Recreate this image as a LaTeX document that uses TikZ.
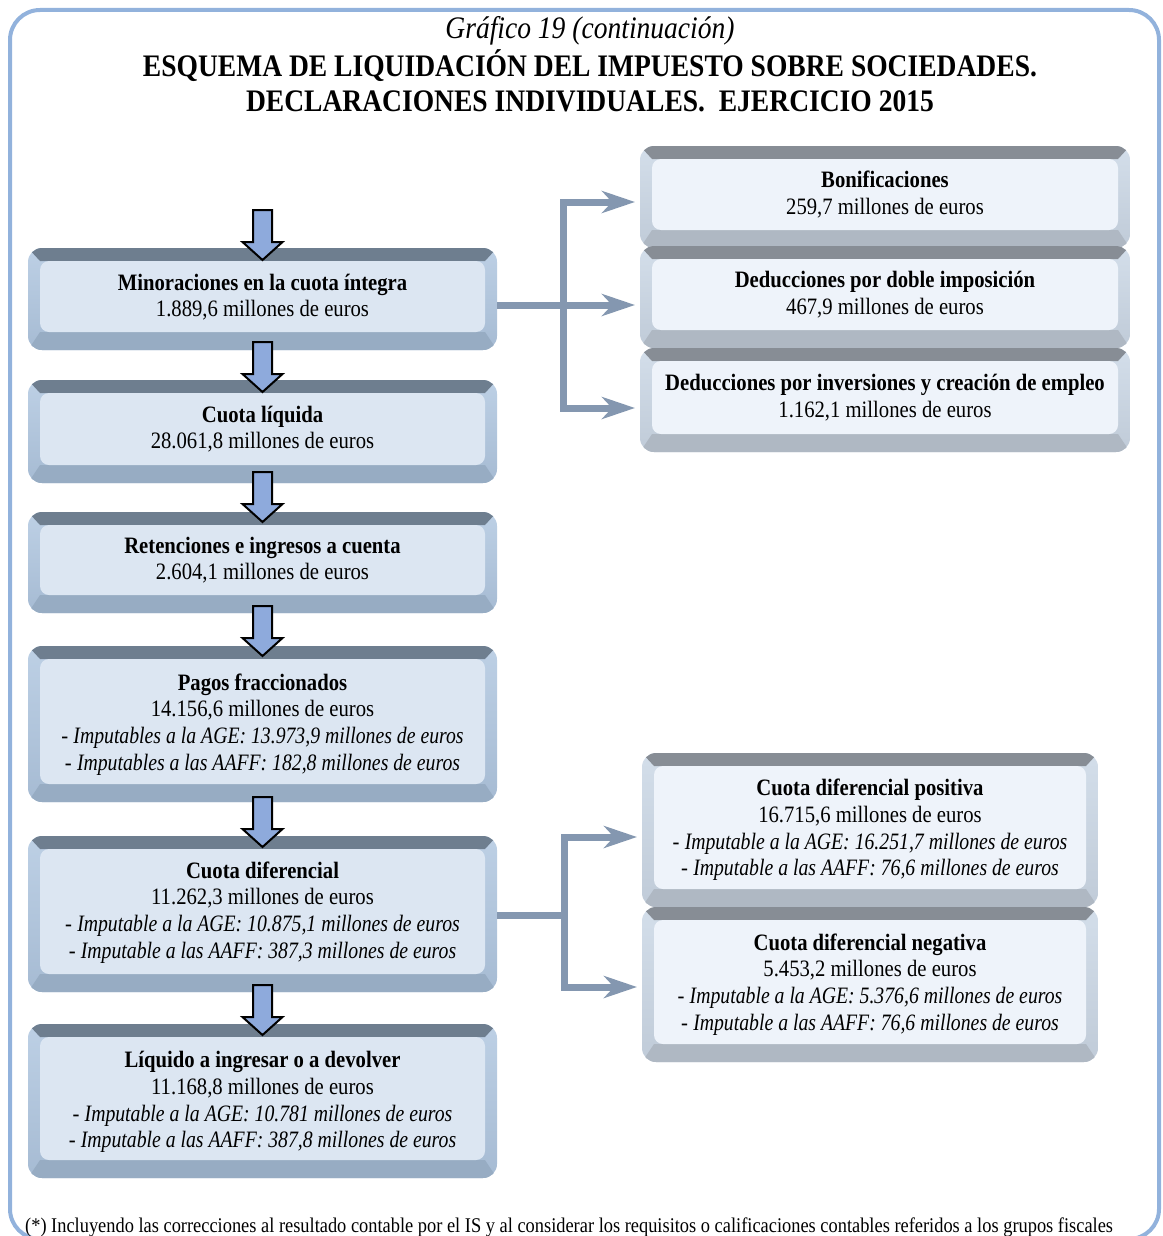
\documentclass[tikz,border=0pt]{standalone}
\usepackage{fontspec}
\setmainfont{Liberation Serif}[FakeStretch=0.88]
\newfontfamily\boxitfam{Liberation Serif}[FakeStretch=0.84]
\newcommand\imp[1]{{\boxitfam\itshape #1}}
\usetikzlibrary{arrows.meta,fit}
\definecolor{framec}{HTML}{92B2DC}
\definecolor{connc}{HTML}{8497B0}
\definecolor{arrowc}{HTML}{8EAADC}
\definecolor{Ltop}{HTML}{6E7E8F}
\definecolor{Lside}{HTML}{A6BBD3}
\definecolor{Lsidehi}{HTML}{BDD0E5}
\definecolor{Lbot}{HTML}{97ACC3}
\definecolor{Lface}{HTML}{DCE6F2}
\definecolor{Rtop}{HTML}{878D95}
\definecolor{Rside}{HTML}{C0CBD8}
\definecolor{Rsidehi}{HTML}{D3DEEA}
\definecolor{Rbot}{HTML}{AFB8C3}
\definecolor{Rface}{HTML}{EEF3FA}
\tikzset{
  boxtxt/.style={align=center, font=\fontsize{23.5}{26.7}\selectfont, inner sep=0pt},
  conn/.style={draw=connc, line width=7pt},
  tipc/.style={-{Stealth[length=33pt,width=22pt,inset=10pt]}, shorten >=5pt},
  barrow/.style={draw=black, line width=2pt, fill=arrowc, line join=miter},
  boxfit/.style={inner sep=0pt, outer sep=0pt},
  titletxt/.style={font=\fontsize{31.3}{35}\selectfont, inner sep=0pt, anchor=base},
}
% name, x0, y0, x1, y1, palette, text y offset, text
\newcommand\bevbox[8]{%
  \begin{scope}
    \clip[rounded corners=14pt] (#2,#3) rectangle (#4,#5);
    \shade[top color=#6sidehi, bottom color=#6side] (#2,#3) rectangle (#4,#5);
    \fill[#6top] (#2,#3) -- (#4,#3) -- ({#4-12},{#3+13}) -- ({#2+12},{#3+13}) -- cycle;
    \fill[#6bot] (#2,#5) -- (#4,#5) -- ({#4-12},{#5-18}) -- ({#2+12},{#5-18}) -- cycle;
  \end{scope}
  \fill[#6face, rounded corners=9pt] ({#2+12},{#3+13}) rectangle ({#4-12},{#5-18});
  \node[boxfit, fit={(#2,#3) (#4,#5)}] (#1) {};
  \node[boxtxt] (#1t) at ({(#2+#4)/2},{(#3+#5-5)/2+#7}) {#8};
}
\newcommand\blockarr[1]{%
  \draw[barrow] (#1) -- ++(-20,-18) -- ++(10.5,0) -- ++(0,-32) -- ++(19,0) -- ++(0,32) -- ++(10.5,0) -- cycle;
}
\begin{document}
\begin{tikzpicture}[x=1pt,y=-1pt]
\useasboundingbox (0,0) rectangle (1162,1236);
\clip (0,0) rectangle (1162,1236);
\draw[framec, line width=4pt, rounded corners=30pt] (10,10) rectangle (1159,1239);

\node[titletxt] (tit1) at (590,38.5) {\textit{Gráfico 19 (continuación)}};
\node[titletxt] (tit2) at (590,76.5) {\textbf{ESQUEMA DE LIQUIDACIÓN DEL IMPUESTO SOBRE SOCIEDADES.}};
\node[titletxt] (tit3) at (590,111.5) {\textbf{DECLARACIONES INDIVIDUALES.\ \ EJERCICIO 2015}};

% right boxes
\bevbox{R1}{640}{146}{1130}{248}{R}{0}{\textbf{Bonificaciones}\\259,7 millones de euros}
\bevbox{R2}{640}{246}{1130}{348}{R}{0}{\textbf{Deducciones por doble imposición}\\467,9 millones de euros}
\bevbox{R3}{640}{348}{1130}{452}{R}{0}{\textbf{Deducciones por inversiones y creación de empleo}\\1.162,1 millones de euros}
\bevbox{R4}{642}{753}{1098}{907}{R}{2.5}{\textbf{Cuota diferencial positiva}\\16.715,6 millones de euros\\- \imp{Imputable a la AGE: 16.251,7 millones de euros}\\- \imp{Imputable a las AAFF: 76,6 millones de euros}}
\bevbox{R5}{642}{907}{1098}{1062}{R}{2.5}{\textbf{Cuota diferencial negativa}\\5.453,2 millones de euros\\- \imp{Imputable a la AGE: 5.376,6 millones de euros}\\- \imp{Imputable a las AAFF: 76,6 millones de euros}}

% left boxes
\bevbox{B1}{28}{248}{497}{350}{L}{0.5}{\textbf{Minoraciones en la cuota íntegra}\\1.889,6 millones de euros}
\bevbox{B2}{28}{380}{497}{483}{L}{0}{\textbf{Cuota líquida}\\28.061,8 millones de euros}
\bevbox{B3}{28}{512}{497}{613}{L}{0}{\textbf{Retenciones e ingresos a cuenta}\\2.604,1 millones de euros}
\bevbox{B4}{28}{646}{497}{802}{L}{3}{\textbf{Pagos fraccionados}\\14.156,6 millones de euros\\- \imp{Imputables a la AGE: 13.973,9 millones de euros}\\- \imp{Imputables a las AAFF: 182,8 millones de euros}}
\bevbox{B5}{28}{836}{497}{992}{L}{1}{\textbf{Cuota diferencial}\\11.262,3 millones de euros\\- \imp{Imputable a la AGE: 10.875,1 millones de euros}\\- \imp{Imputable a las AAFF: 387,3 millones de euros}}
\bevbox{B6}{28}{1024}{497}{1178}{L}{3.5}{\textbf{Líquido a ingresar o a devolver}\\11.168,8 millones de euros\\- \imp{Imputable a la AGE: 10.781 millones de euros}\\- \imp{Imputable a las AAFF: 387,8 millones de euros}}

% block arrows
\coordinate (a1) at ([yshift=-12pt]B1.north);
\coordinate (a2) at ([yshift=-12pt]B2.north);
\coordinate (a3) at ([yshift=-10pt]B3.north);
\coordinate (a4) at ([yshift=-10pt]B4.north);
\coordinate (a5) at ([yshift=-11pt]B5.north);
\coordinate (a6) at ([yshift=-11pt]B6.north);
\blockarr{a1}\blockarr{a2}\blockarr{a3}\blockarr{a4}\blockarr{a5}\blockarr{a6}

% connectors top
\coordinate (jt) at (563,202);
\coordinate (jm) at (563,305);
\coordinate (jb) at (563,408);
\draw[conn] (jm -| B1.east) -- (jm);
\draw[conn, line cap=rect] (jt) -- (jb);
\draw[conn, tipc] (jt) -- (jt -| R1.west);
\draw[conn, tipc] (jm) -- (jm -| R2.west);
\draw[conn, tipc] (jb) -- (jb -| R3.west);

% connectors bottom
\coordinate (kt) at (564,837);
\coordinate (km) at (564,915);
\coordinate (kb) at (564,987);
\draw[conn] (km -| B5.east) -- (km);
\draw[conn, line cap=rect] (kt) -- (kb);
\draw[conn, tipc] (kt) -- (kt -| R4.west);
\draw[conn, tipc] (kb) -- (kb -| R5.west);

\node[anchor=base west, font=\fontsize{20.9}{23}\selectfont, inner sep=0pt] (foot) at (25,1232) {(*) Incluyendo las correcciones al resultado contable por el IS y al considerar los requisitos o calificaciones contables referidos a los grupos fiscales};
\end{tikzpicture}
\end{document}
